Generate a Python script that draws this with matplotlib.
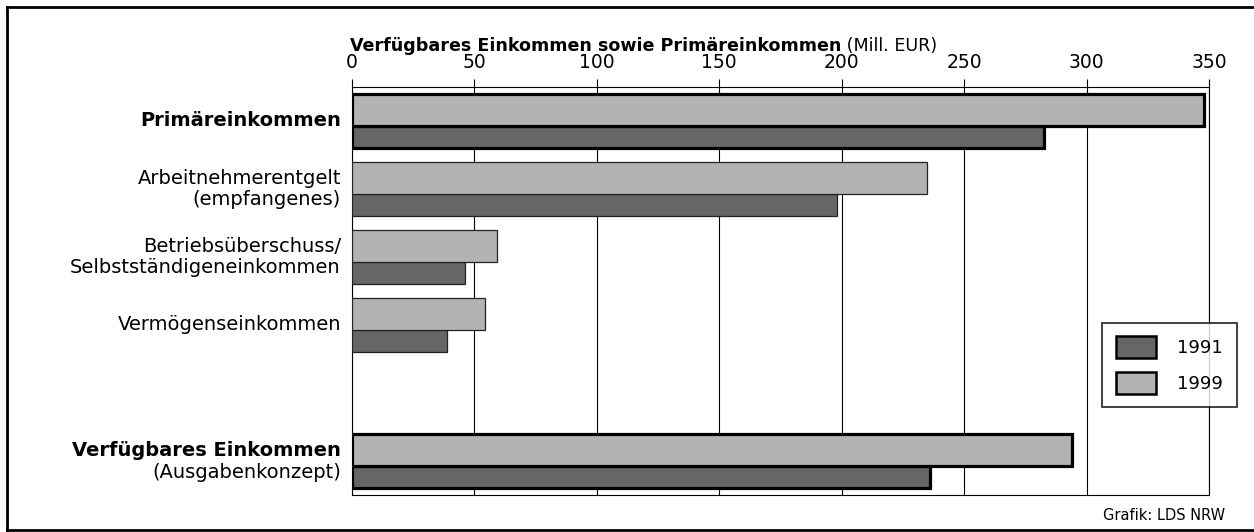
import matplotlib
matplotlib.use("Agg")
import matplotlib.pyplot as plt
from matplotlib.patches import Patch
from matplotlib.lines import Line2D
from matplotlib.transforms import blended_transform_factory

plt.rcParams['font.family'] = ['DejaVu Sans']

# ---- data ----
categories = ["Primäreinkommen", "Arbeitnehmerentgelt\n(empfangenes)",
              "Betriebsüberschuss/\nSelbstständigeneinkommen", "Vermögenseinkommen",
              "Verfügbares Einkommen"]
category_sub = ["", "", "", "", "(Ausgabenkonzept)"]
category_bold = [True, False, False, False, True]
slots = [0, 1, 2, 3, 5]
values_1999 = [348, 234.7, 59.2, 54.2, 293.9]
values_1991 = [282.6, 198.1, 46.0, 38.9, 236.1]
series_names = ["1991", "1999"]
xticks = [0, 50, 100, 150, 200, 250, 300, 350]
title_bold = "Verfügbares Einkommen sowie Primäreinkommen"
title_unit = " (Mill. EUR)"
source = "Grafik: LDS NRW"

c_dark = "#666666"
c_light = "#b3b3b3"

W, H = 1254, 532
fig = plt.figure(figsize=(W / 100, H / 100), dpi=100)
ax = fig.add_axes([352 / W, 1 - 495 / H, (1209 - 352) / W, (495 - 87) / H])

for i, s in enumerate(slots):
    lw = 2.3 if category_bold[i] else 0.9
    ec = "black" if category_bold[i] else "#222222"
    ax.barh(s + 0.732, values_1991[i], height=0.316, color=c_dark,
            edgecolor=ec, linewidth=lw, zorder=3)
    ax.barh(s + 0.338, values_1999[i], height=0.47, color=c_light,
            edgecolor=ec, linewidth=lw, zorder=4)

ax.set_xlim(0, 350)
ax.set_ylim(6, 0)
ax.set_xticks(xticks)
ax.set_xticklabels([str(t) for t in xticks])
ax.xaxis.tick_top()
ax.tick_params(axis='x', direction='out', length=5.5, width=0.8, color='black',
               labelsize=13.5, pad=5)
ax.set_yticks([])
ax.grid(axis='x', color='black', linewidth=0.8, zorder=1)
for sp in ax.spines.values():
    sp.set_linewidth(0.8)
    sp.set_color('black')

# category labels
tr = blended_transform_factory(ax.transAxes, ax.transData)
fs_lab = 14
for i, s in enumerate(slots):
    if category_sub[i]:
        ax.text(-0.013, s + 0.5 - 0.16, categories[i], transform=tr, ha='right',
                va='center', fontsize=fs_lab,
                fontweight='bold' if category_bold[i] else 'normal')
        ax.text(-0.013, s + 0.5 + 0.175, category_sub[i], transform=tr, ha='right',
                va='center', fontsize=fs_lab)
    else:
        ax.text(-0.013, s + 0.5, categories[i], transform=tr, ha='right',
                va='center', fontsize=fs_lab, linespacing=1.1,
                fontweight='bold' if category_bold[i] else 'normal')

# title
t1 = fig.text(350 / W, 1 - 46 / H, title_bold, ha='left', va='center',
              fontsize=12.6, fontweight='bold')
fig.canvas.draw()
bb = t1.get_window_extent(fig.canvas.get_renderer())
fig.text(bb.x1 / W, 1 - 46 / H, title_unit, ha='left', va='center', fontsize=12.6)

# source
fig.text(1225 / W, 1 - 516 / H, source, ha='right', va='center', fontsize=10.5)

# legend
handles = [Patch(facecolor=c_dark, edgecolor='black', linewidth=1.8),
           Patch(facecolor=c_light, edgecolor='black', linewidth=1.8)]
leg = fig.legend(handles, series_names, loc='center',
                 bbox_to_anchor=((1102 + 1237) / 2 / W, 1 - (317 + 413) / 2 / H),
                 fontsize=13, frameon=True, fancybox=False, handlelength=2.2,
                 handleheight=1.5, labelspacing=0.75, handletextpad=1.2,
                 borderpad=0.75)
leg.get_frame().set_edgecolor('black')
leg.get_frame().set_linewidth(1.3)

# outer frame (left, top, bottom)
fx0, fy_top, fy_bot = 7 / W, 1 - 7 / H, 1 - 530 / H
fig.add_artist(Line2D([fx0, 1.0], [fy_top, fy_top], color='black', linewidth=2,
                      transform=fig.transFigure))
fig.add_artist(Line2D([fx0, 1.0], [fy_bot, fy_bot], color='black', linewidth=2,
                      transform=fig.transFigure))
fig.add_artist(Line2D([fx0, fx0], [fy_bot, fy_top], color='black', linewidth=2,
                      transform=fig.transFigure))

fig.savefig("out.png", dpi=100, facecolor='white')
